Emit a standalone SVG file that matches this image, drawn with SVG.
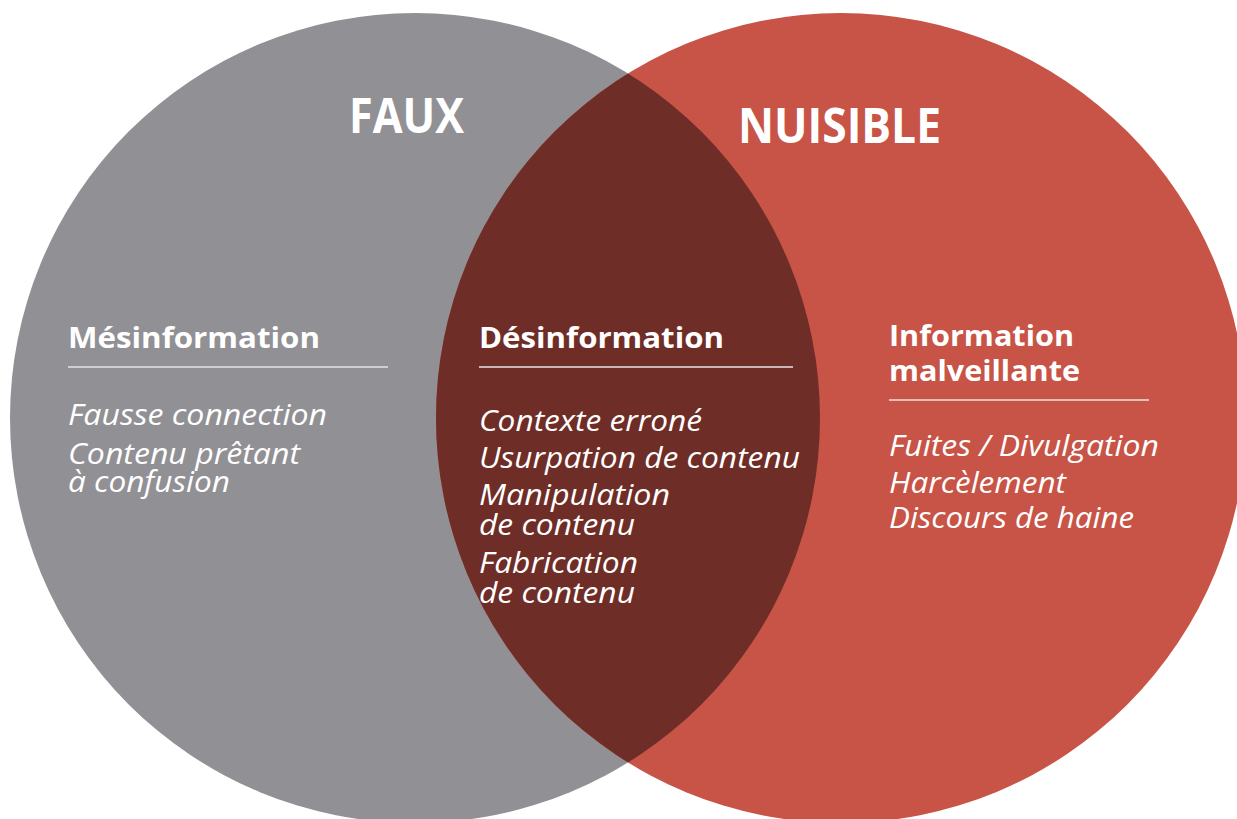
<svg xmlns="http://www.w3.org/2000/svg" width="1237" height="819" viewBox="0 0 1237 819">
  <style>
    .title { font-family: "Open Sans", "Liberation Sans", sans-serif; font-weight: 700; fill: #ffffff; }
    .head { font-family: "Open Sans", "Liberation Sans", sans-serif; font-weight: 700; font-size: 29px; fill: #ffffff; }
    .item { font-family: "Open Sans", "Liberation Sans", sans-serif; font-style: italic; font-size: 29px; fill: #ffffff; }
    .rule { stroke: #e6e4e4; stroke-width: 1.5; }
  </style>
  <defs>
    <clipPath id="clipLeft">
      <circle cx="415" cy="418" r="405"/>
    </clipPath>
  </defs>
  <rect width="1237" height="819" fill="#ffffff"/>
  <g id="circle-faux">
    <circle cx="415" cy="418" r="405" fill="#919094"/>
  </g>
  <g id="circle-nuisible">
    <circle cx="841" cy="418" r="405" fill="#c75446"/>
  </g>
  <g id="intersection">
    <circle cx="841" cy="418" r="405" fill="#6f2d27" clip-path="url(#clipLeft)"/>
  </g>
  <g id="label-faux">
    <text class="title" x="349" y="133" font-size="48" textLength="115" lengthAdjust="spacingAndGlyphs">FAUX</text>
  </g>
  <g id="label-nuisible">
    <text class="title" x="738" y="143" font-size="49" textLength="203" lengthAdjust="spacingAndGlyphs">NUISIBLE</text>
  </g>
  <g id="node-mesinformation">
    <text class="head" x="68" y="348" textLength="252" lengthAdjust="spacingAndGlyphs">Mésinformation</text>
    <line class="rule" x1="68" y1="367" x2="388" y2="367"/>
    <text class="item" x="68" y="425" textLength="259" lengthAdjust="spacingAndGlyphs">Fausse connection</text>
    <text class="item" x="68" y="464" textLength="232" lengthAdjust="spacingAndGlyphs">Contenu prêtant</text>
    <text class="item" x="68" y="492" textLength="162" lengthAdjust="spacingAndGlyphs">à confusion</text>
  </g>
  <g id="node-desinformation">
    <text class="head" x="479" y="348" textLength="245" lengthAdjust="spacingAndGlyphs">Désinformation</text>
    <line class="rule" x1="479" y1="367" x2="793" y2="367"/>
    <text class="item" x="479" y="431" textLength="223" lengthAdjust="spacingAndGlyphs">Contexte erroné</text>
    <text class="item" x="479" y="468" textLength="321" lengthAdjust="spacingAndGlyphs">Usurpation de contenu</text>
    <text class="item" x="479" y="505" textLength="191" lengthAdjust="spacingAndGlyphs">Manipulation</text>
    <text class="item" x="479" y="535" textLength="156" lengthAdjust="spacingAndGlyphs">de contenu</text>
    <text class="item" x="479" y="573" textLength="159" lengthAdjust="spacingAndGlyphs">Fabrication</text>
    <text class="item" x="479" y="603" textLength="156" lengthAdjust="spacingAndGlyphs">de contenu</text>
  </g>
  <g id="node-malinformation">
    <text class="head" x="889" y="346" textLength="185" lengthAdjust="spacingAndGlyphs">Information</text>
    <text class="head" x="889" y="381" textLength="191" lengthAdjust="spacingAndGlyphs">malveillante</text>
    <line class="rule" x1="889" y1="400" x2="1149" y2="400"/>
    <text class="item" x="889" y="456" textLength="270" lengthAdjust="spacingAndGlyphs">Fuites / Divulgation</text>
    <text class="item" x="889" y="493" textLength="177" lengthAdjust="spacingAndGlyphs">Harcèlement</text>
    <text class="item" x="889" y="528" textLength="245" lengthAdjust="spacingAndGlyphs">Discours de haine</text>
  </g>
  <g id="connectors"/>
</svg>
